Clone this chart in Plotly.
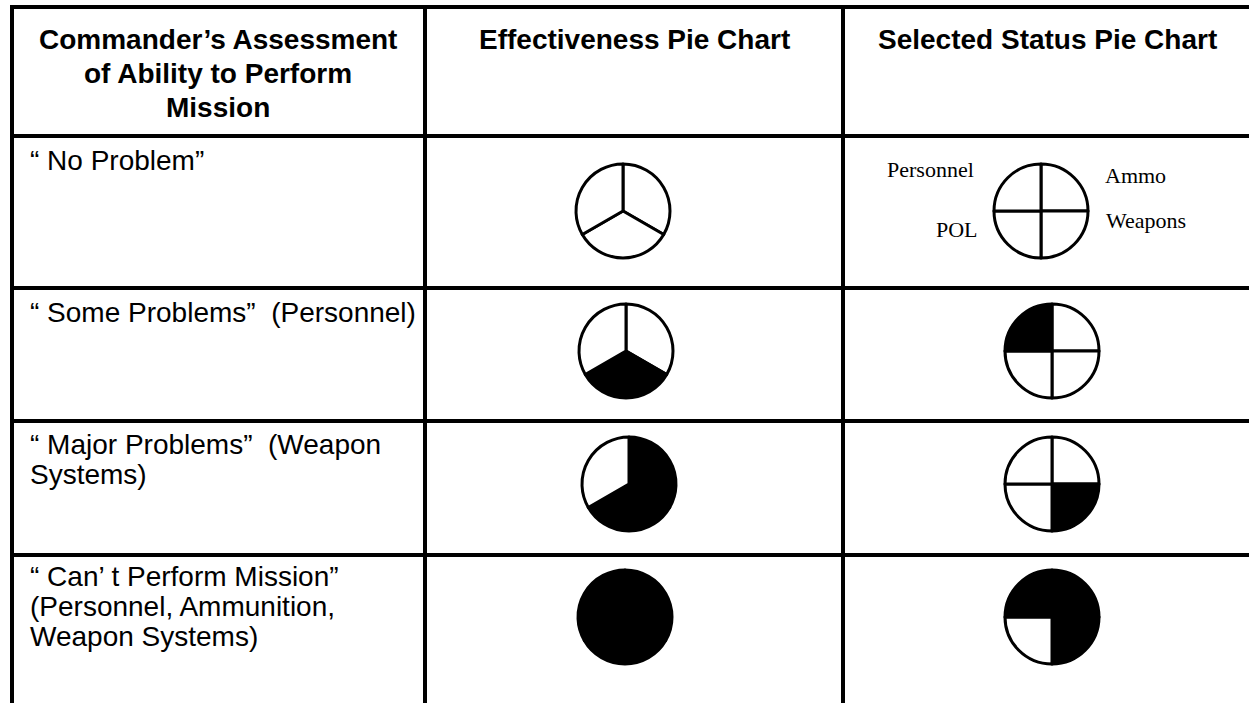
import plotly.graph_objects as go

# ---------------- data ----------------
header_col1 = ["Commander\u2019s Assessment", "of Ability to Perform", "Mission"]
header_cols = ["Effectiveness Pie Chart", "Selected Status Pie Chart"]
row_labels = [
    ["\u201c No Problem\u201d"],
    ["\u201c Some Problems\u201d  (Personnel)"],
    ["\u201c Major Problems\u201d  (Weapon", "Systems)"],
    ["\u201c Can\u2019 t Perform Mission\u201d", "(Personnel, Ammunition,", "Weapon Systems)"],
]
# effectiveness pie: three equal thirds, clockwise from 12 o'clock
eff_slices = ["Upper right", "Bottom", "Upper left"]
eff_values = [1, 1, 1]
eff_filled = [[0, 0, 0], [0, 1, 0], [1, 1, 0], [1, 1, 1]]
# selected status pie: four quadrants, clockwise from 12 o'clock
status_slices = ["Ammo", "Weapons", "POL", "Personnel"]
status_values = [1, 1, 1, 1]
status_filled = [[0, 0, 0, 0], [0, 0, 0, 1], [0, 1, 0, 0], [1, 1, 0, 1]]

# ---------------- layout constants (pixels) ----------------
W, H = 1249, 703
col_lines = [12, 425, 843]
row_lines = [7, 136, 288, 421, 555]
line_w = 4
pie_r = 47
pie_cy = [211, 351, 484, 617]
eff_cx = [623, 626, 629, 625]
status_cx = [1041, 1052, 1052, 1052]
status_label_pos = {"Personnel": (930, 169), "Ammo": (1135, 175),
                    "Weapons": (1146, 220), "POL": (957, 229)}
text_x = 28
first_line_off = [24, 24, 23, 21]
line_gap = 30
header_y = [39, 73, 107]
header_x = [218, 634, 1047]
SANS = "Liberation Sans, Arial, sans-serif"
SERIF = "Liberation Serif, Times New Roman, serif"
FS = 28


def px_dom_x(a, b):
    return [a / W, b / W]


def px_dom_y(a, b):
    return [1 - b / H, 1 - a / H]


fig = go.Figure()

for i in range(len(row_labels)):
    cy = pie_cy[i]
    for cx, vals, labels, filled in (
        (eff_cx[i], eff_values, eff_slices, eff_filled[i]),
        (status_cx[i], status_values, status_slices, status_filled[i]),
    ):
        fig.add_trace(go.Pie(
            values=vals, labels=labels, sort=False, direction="clockwise",
            rotation=0, textinfo="none", hoverinfo="label",
            marker=dict(colors=["black" if f else "white" for f in filled],
                        line=dict(color="black", width=3)),
            domain=dict(x=px_dom_x(cx - pie_r, cx + pie_r),
                        y=px_dom_y(cy - pie_r, cy + pie_r)),
            showlegend=False,
        ))

shapes = []
for y in row_lines:
    shapes.append(dict(type="line", xref="x", yref="y", x0=col_lines[0] - line_w / 2,
                       x1=W + 5, y0=y, y1=y, line=dict(color="black", width=line_w)))
for x in col_lines:
    shapes.append(dict(type="line", xref="x", yref="y", x0=x, x1=x, y0=row_lines[0],
                       y1=H + 5, line=dict(color="black", width=line_w)))

ann = []
for j, t in enumerate(header_col1):
    ann.append(dict(x=header_x[0], y=header_y[j], text="<b>" + t + "</b>",
                    xanchor="center", yanchor="middle"))
for k, t in enumerate(header_cols):
    ann.append(dict(x=header_x[k + 1], y=header_y[0], text="<b>" + t + "</b>",
                    xanchor="center", yanchor="middle"))
for i, lines in enumerate(row_labels):
    for j, t in enumerate(lines):
        ann.append(dict(x=text_x, y=row_lines[i + 1] + first_line_off[i] + j * line_gap,
                        text=t, xanchor="left", yanchor="middle"))
for lab, (x, y) in status_label_pos.items():
    ann.append(dict(x=x, y=y, text=lab, xanchor="center", yanchor="middle",
                    font=dict(family=SERIF, size=22, color="black")))

for a in ann:
    a.setdefault("font", dict(family=SANS, size=FS, color="black"))
    a.update(xref="x", yref="y", showarrow=False)

fig.update_layout(
    width=W, height=H, margin=dict(l=0, r=0, t=0, b=0),
    paper_bgcolor="white", plot_bgcolor="white",
    xaxis=dict(range=[0, W], visible=False, fixedrange=True),
    yaxis=dict(range=[H, 0], visible=False, fixedrange=True),
    shapes=shapes, annotations=ann,
)

fig.write_html("out.html", config={"displayModeBar": False},
               post_script="document.body.style.margin='0';")
